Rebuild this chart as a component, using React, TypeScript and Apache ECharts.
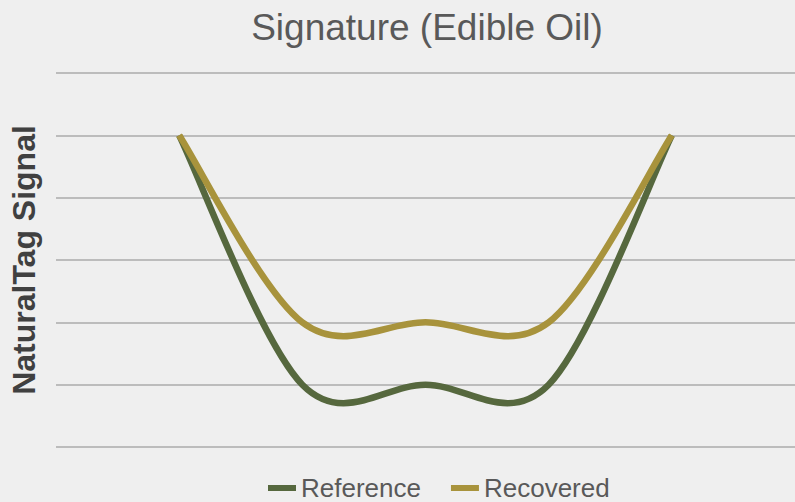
import React, { useEffect, useRef } from "react";
import * as echarts from "echarts";

const titleText = "Signature (Edible Oil)";
const yAxisTitle = "NaturalTag Signal";
const seriesNames = ["Reference", "Recovered"];
const samplePositions = [1, 2, 3, 4, 5];
const referenceValues = [5, 1, 1, 1, 5];
const recoveredValues = [5, 2, 2, 2, 5];
const seriesColors = ["#56683e", "#a8933c"];

function smoothSeries(name: string, values: number[], color: string) {
  const data = samplePositions.map((x, i) => [x, values[i]]);
  return {
    name,
    type: "custom",
    coordinateSystem: "cartesian2d",
    itemStyle: { color },
    encode: { x: 0, y: 1 },
    data,
    renderItem: (params: any, api: any) => {
      if (params.dataIndex !== 0) return null;
      const pts = data.map((d) => api.coord(d));
      const n = pts.length;
      const P = (i: number) => pts[Math.max(0, Math.min(n - 1, i))];
      let d = `M${pts[0][0]},${pts[0][1]}`;
      for (let i = 0; i < n - 1; i++) {
        const p0 = P(i - 1), p1 = P(i), p2 = P(i + 1), p3 = P(i + 2);
        const c1x = p1[0] + (p2[0] - p0[0]) / 6;
        const c1y = p1[1] + (p2[1] - p0[1]) / 6;
        const c2x = p2[0] - (p3[0] - p1[0]) / 6;
        const c2y = p2[1] - (p3[1] - p1[1]) / 6;
        d += ` C${c1x},${c1y} ${c2x},${c2y} ${p2[0]},${p2[1]}`;
      }
      return {
        type: "path",
        shape: { pathData: d },
        style: { fill: "none", stroke: color, lineWidth: 6.5, lineJoin: "round", lineCap: "butt" },
      };
    },
  };
}

export default function App() {
  const ref = useRef<HTMLDivElement>(null);
  useEffect(() => {
    document.body.style.margin = "0";
    const chart = echarts.init(ref.current!, null, { renderer: "svg" });
    const font = "'Liberation Sans', Arial, sans-serif";
    chart.setOption({
      animation: false,
      backgroundColor: "#efefef",
      title: {
        text: titleText,
        left: 422,
        top: 4,
        textAlign: "center",
        textStyle: { fontFamily: font, fontSize: 37, fontWeight: "normal", color: "#595959" },
      },
      legend: {
        data: seriesNames,
        left: 268,
        top: 475,
        padding: 0,
        icon: "rect",
        itemWidth: 28,
        itemHeight: 6,
        itemGap: 30,
        textStyle: { fontFamily: font, fontSize: 26, lineHeight: 20, color: "#595959" },
      },
      grid: { left: 53, top: 73, width: 750, height: 374 },
      xAxis: {
        type: "value",
        min: 0,
        max: 6,
        show: false,
      },
      yAxis: {
        type: "value",
        min: 0,
        max: 6,
        interval: 1,
        name: yAxisTitle,
        nameLocation: "middle",
        nameRotate: 90,
        nameGap: 16,
        nameTextStyle: { fontFamily: font, fontSize: 32, fontWeight: "bold", color: "#404040" },
        axisLabel: { show: false },
        axisTick: { show: false },
        axisLine: { show: false },
        splitLine: { lineStyle: { color: "#bcbcbc", width: 2 } },
      },
      series: [
        smoothSeries(seriesNames[0], referenceValues, seriesColors[0]),
        smoothSeries(seriesNames[1], recoveredValues, seriesColors[1]),
      ],
    });
    return () => chart.dispose();
  }, []);
  return <div ref={ref} style={{ width: 795, height: 502 }} />;
}
